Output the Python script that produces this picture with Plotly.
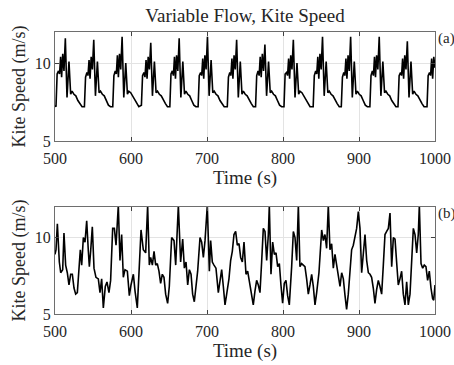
import plotly.graph_objects as go

# ---------------- data ----------------
top_t = [500.0,
    501.3, 502.8, 504.6, 506.0, 507.4, 508.7, 510.2, 511.8, 513.6, 515.8, 518.4, 520.6, 522.4, 524.9, 527.4, 530.1, 532.9, 535.6,
    538.7, 540.2, 542.0, 543.4, 544.8, 546.1, 547.6, 549.2, 551.0, 553.2, 555.8, 558.0, 559.8, 562.3, 564.8, 567.5, 570.3, 573.0,
    576.0, 577.5, 579.3, 580.7, 582.1, 583.4, 584.9, 586.5, 588.3, 590.5, 593.1, 595.3, 597.1, 599.6, 602.1, 604.8, 607.6, 610.3,
    613.7, 615.2, 617.0, 618.4, 619.8, 621.1, 622.6, 624.2, 626.0, 628.2, 630.8, 633.0, 634.8, 637.3, 639.8, 642.5, 645.3, 648.0,
    651.1, 652.6, 654.4, 655.8, 657.2, 658.5, 660.0, 661.6, 663.4, 665.6, 668.2, 670.4, 672.2, 674.7, 677.2, 679.9, 682.7, 685.4,
    688.3, 689.8, 691.6, 693.0, 694.4, 695.7, 697.2, 698.8, 700.6, 702.8, 705.4, 707.6, 709.4, 711.9, 714.4, 717.1, 719.9, 722.6,
    726.7, 728.2, 730.0, 731.4, 732.8, 734.1, 735.6, 737.2, 739.0, 741.2, 743.8, 746.0, 747.8, 750.3, 752.8, 755.5, 758.3, 761.0,
    763.9, 765.4, 767.2, 768.6, 770.0, 771.3, 772.8, 774.4, 776.2, 778.4, 781.0, 783.2, 785.0, 787.5, 790.0, 792.7, 795.5, 798.2,
    801.3, 802.8, 804.6, 806.0, 807.4, 808.7, 810.2, 811.8, 813.6, 815.8, 818.4, 820.6, 822.4, 824.9, 827.4, 830.1, 832.9, 835.6,
    839.7, 841.2, 843.0, 844.4, 845.8, 847.1, 848.6, 850.2, 852.0, 854.2, 856.8, 859.0, 860.8, 863.3, 865.8, 868.5, 871.3, 874.0,
    876.7, 878.2, 880.0, 881.4, 882.8, 884.1, 885.6, 887.2, 889.0, 891.2, 893.8, 896.0, 897.8, 900.3, 902.8, 905.5, 908.3, 911.0,
    914.3, 915.8, 917.6, 919.0, 920.4, 921.7, 923.2, 924.8, 926.6, 928.8, 931.4, 933.6, 935.4, 937.9, 940.4, 943.1, 945.9, 948.6,
    951.3, 952.8, 954.6, 956.0, 957.4, 958.7, 960.2, 961.8, 963.6, 965.8, 968.4, 970.6, 972.4, 974.9, 977.4, 980.1, 982.9, 985.6,
    989.5, 991.0, 992.8, 994.2, 995.6, 996.9, 998.4, 1000.0]
top_v = [7.3,
    7.2, 9.3, 9.5, 9.3, 10.4, 9.1, 10.6, 9.5, 11.6, 7.8, 10.1, 8.0, 8.2, 8.0, 7.9, 7.6, 7.4, 7.2,
    7.2, 9.1, 9.4, 9.2, 10.2, 9.0, 10.4, 9.6, 11.5, 7.9, 10.1, 8.1, 8.2, 8.0, 7.9, 7.6, 7.3, 7.2,
    7.2, 9.2, 9.5, 9.3, 10.5, 9.1, 10.6, 9.6, 11.7, 7.8, 10.0, 8.0, 8.2, 8.1, 7.9, 7.7, 7.4, 7.2,
    7.3, 9.2, 9.4, 9.1, 10.2, 9.0, 10.4, 9.6, 11.3, 7.9, 10.1, 8.1, 8.2, 8.0, 7.9, 7.6, 7.4, 7.2,
    7.2, 9.3, 9.5, 9.2, 10.4, 9.0, 10.5, 9.5, 11.6, 7.8, 10.1, 8.0, 8.2, 8.0, 7.9, 7.6, 7.3, 7.2,
    7.2, 9.2, 9.4, 9.2, 10.3, 9.0, 10.5, 9.6, 11.7, 7.9, 10.2, 8.1, 8.2, 8.0, 7.9, 7.6, 7.4, 7.2,
    7.2, 9.1, 9.4, 9.2, 10.3, 9.0, 10.5, 9.6, 11.5, 7.8, 10.1, 8.0, 8.2, 8.0, 7.9, 7.6, 7.4, 7.2,
    7.2, 9.2, 9.5, 9.2, 10.4, 9.1, 10.6, 9.5, 11.2, 7.9, 10.1, 8.1, 8.2, 8.0, 7.9, 7.6, 7.3, 7.2,
    7.2, 9.3, 9.4, 9.2, 10.3, 9.0, 10.5, 9.6, 11.5, 7.8, 10.0, 8.0, 8.2, 8.1, 7.9, 7.6, 7.4, 7.2,
    7.2, 9.2, 9.5, 9.3, 10.4, 9.0, 10.6, 9.6, 11.7, 7.9, 10.1, 8.1, 8.2, 8.0, 7.9, 7.6, 7.4, 7.2,
    7.2, 9.1, 9.4, 9.2, 10.3, 9.0, 10.5, 9.5, 11.7, 7.8, 10.1, 8.0, 8.2, 8.0, 7.9, 7.6, 7.3, 7.2,
    7.2, 9.2, 9.5, 9.2, 10.4, 9.1, 10.5, 9.6, 11.7, 7.9, 10.1, 8.1, 8.2, 8.0, 7.9, 7.6, 7.4, 7.2,
    7.2, 9.2, 9.4, 9.2, 10.3, 9.0, 10.5, 9.6, 11.4, 7.8, 10.1, 8.0, 8.2, 8.0, 7.9, 7.6, 7.4, 7.2,
    7.2, 9.2, 9.4, 9.2, 10.3, 9.0, 10.4, 9.7]

bot_t = [500.0, 501.3, 503.1, 505.7, 507.5, 510.1, 511.8, 514.0, 516.2, 518.4, 520.6, 522.8, 525.0, 527.2, 529.4,
    531.6, 533.3, 535.1, 537.3, 539.5, 541.7, 543.9, 545.2, 546.9, 549.1, 551.3, 553.9, 557.0, 559.2, 561.4,
    563.6, 566.2, 568.4, 571.0, 573.2, 575.9, 578.1, 580.3, 583.3, 585.5, 587.7, 589.9, 592.1, 595.2, 597.8,
    600.0, 603.1, 605.3, 608.3, 611.0, 613.2, 616.2, 619.3, 621.9, 624.1, 625.9, 628.1, 630.3, 632.5, 634.6,
    636.8, 639.0, 641.2, 643.4, 645.6, 648.2, 650.4, 653.5, 656.6, 658.8, 662.3, 665.3, 668.0, 670.2, 672.4,
    674.6, 676.8, 679.0, 681.1, 683.3, 685.5, 687.7, 690.8, 693.0, 695.2, 697.4, 700.4, 703.1, 704.8, 707.0,
    709.2, 711.8, 714.9, 717.1, 719.3, 721.5, 723.7, 725.9, 728.9, 731.1, 733.3, 735.5, 737.7, 739.9, 742.1,
    744.3, 746.5, 748.7, 751.3, 753.5, 755.7, 758.8, 760.9, 763.1, 765.3, 767.5, 769.7, 771.9, 774.1, 776.3,
    778.5, 780.7, 782.0, 784.2, 786.4, 788.6, 790.8, 793.0, 795.2, 797.3, 799.5, 801.7, 803.9, 806.1, 808.3,
    811.4, 813.6, 815.8, 818.0, 820.2, 822.3, 824.5, 826.7, 828.9, 831.1, 833.3, 835.5, 837.7, 839.9, 842.1,
    844.3, 847.3, 850.9, 853.1, 855.2, 857.4, 859.6, 861.8, 864.0, 866.2, 868.4, 870.6, 872.8, 875.0, 877.2,
    879.4, 881.6, 883.7, 885.9, 888.1, 890.3, 892.5, 894.7, 896.9, 899.1, 901.3, 903.5, 905.7, 907.9, 910.1,
    912.3, 914.5, 916.6, 918.8, 921.0, 923.2, 925.4, 927.6, 929.8, 932.0, 934.2, 936.4, 938.6, 940.8, 943.0,
    945.2, 947.4, 949.5, 951.7, 953.9, 956.1, 958.3, 960.5, 962.7, 964.9, 967.1, 969.3, 971.5, 973.7, 975.9,
    978.0, 979.4, 981.6, 983.8, 985.9, 988.1, 990.3, 992.5, 994.7, 996.9, 998.3, 1000.0]
bot_v = [8.9, 9.2, 10.9, 8.4, 7.7, 7.9, 10.3, 8.2, 7.7, 6.9, 7.6, 7.6, 6.7, 6.3, 6.4,
    7.8, 9.2, 8.2, 10.0, 9.7, 11.1, 9.1, 8.1, 9.1, 10.7, 8.0, 7.4, 7.3, 6.4, 7.3,
    5.4, 6.8, 7.1, 6.4, 7.2, 10.6, 10.6, 9.5, 12.1, 8.5, 10.2, 7.4, 7.9, 7.8, 6.2,
    6.9, 7.6, 6.5, 5.4, 8.2, 10.5, 9.2, 9.0, 12.1, 8.2, 8.7, 8.2, 9.1, 8.2, 8.3,
    7.8, 7.0, 7.6, 7.4, 6.3, 5.7, 6.8, 10.0, 9.8, 8.2, 12.1, 8.4, 9.9, 8.0, 8.4,
    6.9, 7.9, 7.6, 6.3, 5.8, 6.9, 7.8, 10.0, 9.7, 8.7, 9.8, 12.1, 7.8, 9.8, 8.4,
    8.2, 8.0, 6.4, 7.2, 7.9, 6.8, 5.6, 6.3, 7.3, 8.5, 9.1, 10.2, 10.4, 9.5, 9.6,
    8.7, 8.4, 9.7, 7.6, 7.8, 7.1, 6.3, 5.6, 6.5, 7.2, 6.9, 6.4, 8.4, 10.6, 10.4,
    8.5, 10.2, 12.1, 7.6, 9.7, 8.9, 9.0, 8.1, 8.3, 6.9, 5.7, 7.0, 7.2, 6.2, 5.6,
    8.1, 10.4, 10.0, 8.5, 12.1, 8.1, 8.3, 8.2, 8.1, 7.3, 6.3, 6.9, 7.6, 6.8, 5.6,
    6.4, 7.7, 10.5, 9.8, 10.2, 9.3, 12.1, 9.2, 9.6, 8.0, 8.9, 8.1, 7.6, 6.8, 7.7,
    7.3, 6.2, 5.3, 6.3, 7.8, 9.2, 9.5, 10.0, 10.6, 11.7, 10.6, 7.7, 9.2, 10.2, 8.5,
    7.7, 7.6, 7.4, 6.7, 5.7, 6.6, 7.2, 6.8, 6.3, 8.2, 10.2, 10.4, 10.6, 11.6, 8.1,
    10.0, 9.9, 8.4, 6.9, 7.3, 7.8, 6.3, 5.6, 7.1, 5.6, 6.3, 8.1, 10.6, 10.2, 9.0,
    10.2, 12.1, 8.3, 8.0, 8.2, 8.1, 7.2, 7.8, 6.7, 6.0, 5.9, 6.9]

x_ticks = [500, 600, 700, 800, 900, 1000]
y_ticks = [5, 10]
title_text = "Variable Flow, Kite Speed"
x_label = "Time (s)"
y_label = "Kite Speed (m/s)"
panel_labels = ["(a)", "(b)"]

# ---------------- figure ----------------
FONT = "Liberation Serif"
TXT = "#262626"
fig = go.Figure()
fig.add_trace(go.Scatter(x=top_t, y=top_v, mode="lines", line=dict(color="black", width=1.6),
                         xaxis="x", yaxis="y", showlegend=False, hoverinfo="skip"))
fig.add_trace(go.Scatter(x=bot_t, y=bot_v, mode="lines", line=dict(color="black", width=1.6),
                         xaxis="x2", yaxis="y2", showlegend=False, hoverinfo="skip"))

def xax(anchor):
    return dict(range=[500, 1000], tickvals=x_ticks, ticks="inside", ticklen=4, tickcolor="#404040",
                showline=True, linecolor="#6e6e6e", linewidth=1, mirror="ticks",
                showgrid=True, gridcolor="#e3e3e3", gridwidth=1, zeroline=False,
                tickfont=dict(family=FONT, size=16, color=TXT), anchor=anchor, ticklabelstandoff=3,
                title=dict(text=x_label, font=dict(family=FONT, size=19, color=TXT), standoff=0))

def yax(anchor, dom):
    return dict(range=[5, 12], tickvals=y_ticks, ticks="inside", ticklen=4, tickcolor="#404040",
                showline=True, linecolor="#6e6e6e", linewidth=1, mirror="ticks",
                showgrid=True, gridcolor="#e3e3e3", gridwidth=1, zeroline=False,
                tickfont=dict(family=FONT, size=16, color=TXT), anchor=anchor, domain=dom,
                title=dict(text=y_label, font=dict(family=FONT, size=18, color=TXT), standoff=4))

fig.update_layout(
    width=454, height=365,
    margin=dict(l=55, r=19, t=32, b=51, autoexpand=False),
    paper_bgcolor="white", plot_bgcolor="white",
    xaxis=xax("y"), yaxis=yax("x", [0.6135, 1.0]),
    xaxis2=xax("y2"), yaxis2=yax("x2", [0.0, 0.3794]),
    title=dict(text=title_text, x=0.5, xref="paper", xanchor="center", y=1 - 15 / 365, yanchor="middle",
               font=dict(family=FONT, size=19, color=TXT)),
)
for lab, yy in zip(panel_labels, [1.0, 0.3794]):
    fig.add_annotation(text=lab, xref="paper", yref="paper", x=1.0, y=yy, xanchor="left", yanchor="top",
                       xshift=1, yshift=4, showarrow=False, font=dict(family=FONT, size=15, color=TXT))

fig.write_html("out.html")
